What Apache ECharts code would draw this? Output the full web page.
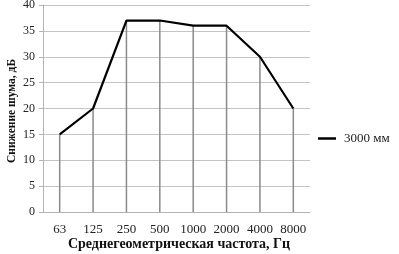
<!DOCTYPE html>
<html><head><meta charset="utf-8">
<script src="https://cdn.jsdelivr.net/npm/echarts@6/dist/echarts.min.js"></script>
<style>html,body{margin:0;padding:0;background:#fff}#c{width:399px;height:254px}</style>
</head><body><div id="c"></div>
<script>
const categories = ['63','125','250','500','1000','2000','4000','8000'];
const values3000 = [15, 20, 37, 37, 36, 36, 30, 20];
const seriesName = '3000 мм';
const xName = 'Среднегеометрическая частота, Гц';
const yName = 'Снижение шума, дБ';

const chart = echarts.init(document.getElementById('c'), null, {renderer:'canvas'});
const font = 'Liberation Serif';
chart.setOption({
  animation:false,
  grid:{left:43, right:89, top:5, bottom:42, outerBoundsMode:'none', containLabel:false},
  legend:{
    data:[{name:seriesName, icon:'rect'}],
    left:313, top:127, itemWidth:18, itemHeight:2.5, itemGap:0,
    textStyle:{fontFamily:font, fontSize:13, color:'#222', padding:[0,0,0,3]}
  },
  graphic:[
    {type:'text', x:179, y:244,
     style:{text:xName, fontFamily:font, fontSize:14, fontWeight:'bold', fill:'#111',
            align:'center', verticalAlign:'middle'}, silent:true},
    {type:'text', x:12, y:111, rotation:Math.PI/2,
     style:{text:yName, fontFamily:font, fontSize:11.5, fontWeight:'bold', fill:'#111',
            align:'center', verticalAlign:'middle'}, silent:true}
  ],
  xAxis:{
    type:'category', data:categories, boundaryGap:true,
    axisLine:{lineStyle:{color:'#b4b4b4', width:1}},
    axisTick:{show:false},
    axisLabel:{fontFamily:font, fontSize:13, color:'#222', margin:11, interval:0, hideOverlap:false}
  },
  yAxis:{
    type:'value', min:0, max:40, interval:5,
    axisLine:{show:true, lineStyle:{color:'#b4b4b4', width:1}},
    axisTick:{show:true, length:4, lineStyle:{color:'#b4b4b4'}},
    splitLine:{lineStyle:{color:'#c4c4c4', width:1}},
    axisLabel:{fontFamily:font, fontSize:12, color:'#222', margin:8}
  },
  series:[
    {type:'bar', name:'drop', data:values3000, barWidth:1.5, silent:true,
     itemStyle:{color:'#8a8a8a'}, z:1},
    {type:'line', name:seriesName, data:values3000, symbol:'none',
     lineStyle:{color:'#000', width:2.2}, itemStyle:{color:'#000'}, z:3}
  ]
});
</script></body></html>
